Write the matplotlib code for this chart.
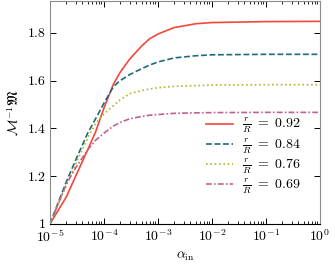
import numpy as np
import matplotlib
matplotlib.use("Agg")
import matplotlib.pyplot as plt
from matplotlib.ticker import FuncFormatter, LogLocator, NullFormatter

plt.rcParams['font.family'] = 'serif'
plt.rcParams['font.serif'] = ['cmr10']
plt.rcParams['mathtext.fontset'] = 'cm'
plt.rcParams['axes.formatter.use_mathtext'] = True
plt.rcParams['font.size'] = 10

# sampled alpha_in values
alpha = [1e-5, 2e-5, 3e-5, 5e-5, 7e-5, 1e-4, 1.5e-4, 2e-4, 3e-4, 5e-4,
         7e-4, 1e-3, 2e-3, 5e-3, 1e-2, 1e-1, 1.0]

# M^-1 frak(M) for each r/R
m_092 = [1.0, 1.112, 1.20, 1.31, 1.385, 1.485, 1.585, 1.635, 1.69, 1.745,
         1.775, 1.795, 1.822, 1.838, 1.843, 1.847, 1.848]
m_084 = [1.0, 1.175, 1.267, 1.38, 1.44, 1.505, 1.575, 1.60, 1.625, 1.65,
         1.665, 1.678, 1.695, 1.704, 1.708, 1.71, 1.71]
m_076 = [1.0, 1.16, 1.25, 1.36, 1.42, 1.46, 1.495, 1.52, 1.545, 1.558,
         1.565, 1.57, 1.576, 1.579, 1.581, 1.583, 1.583]
m_069 = [1.0, 1.165, 1.235, 1.31, 1.35, 1.38, 1.41, 1.425, 1.44, 1.45,
         1.455, 1.458, 1.463, 1.465, 1.466, 1.467, 1.467]

labels = [r'$\frac{r}{R}\ =\ 0.92$', r'$\frac{r}{R}\ =\ 0.84$',
          r'$\frac{r}{R}\ =\ 0.76$', r'$\frac{r}{R}\ =\ 0.69$']
colors = ['#f4473a', '#1d6b78', '#b5b52a', '#c0628f']
styles = ['-', (0, (3.5, 1.6)), (0, (1, 1.6)), (0, (3.5, 1.3, 1, 1.3))]

fig = plt.figure(figsize=(3.35, 2.65), dpi=100)
ax = fig.add_axes([0.149, 0.155, 0.806, 0.841])

for y, lab, c, ls in zip([m_092, m_084, m_076, m_069], labels, colors, styles):
    ax.plot(alpha, y, color=c, linestyle=ls, linewidth=1.2, label=lab)

ax.set_xscale('log')
ax.set_xlim(1e-5, 1)
ax.set_ylim(1.0, 1.933)
ax.set_yticks([1.0, 1.2, 1.4, 1.6, 1.8])
ax.yaxis.set_major_formatter(FuncFormatter(lambda v, p: '1' if abs(v - 1) < 1e-9 else f'{v:.1f}'))
ax.xaxis.set_major_locator(LogLocator(base=10, numticks=10))
ax.xaxis.set_minor_locator(LogLocator(base=10, subs=np.arange(2, 10), numticks=20))
ax.xaxis.set_minor_formatter(NullFormatter())

ax.tick_params(which='both', direction='in', top=True, right=True)
ax.tick_params(which='major', length=4, width=0.7, pad=3)
ax.tick_params(which='minor', length=2, width=0.6)
for side in ['left', 'top', 'right']:
    ax.spines[side].set_color('#8c8c8c')
ax.spines['bottom'].set_color('black')

ax.set_xlabel(r'$\alpha_{\mathrm{in}}$', labelpad=4)
ax.set_ylabel(r'$\mathcal{M}^{-1}\mathfrak{M}$', labelpad=4)

ax.legend(loc='lower right', bbox_to_anchor=(0.95, 0.10), frameon=False,
          fontsize=10, handlelength=2.0, labelspacing=0.05,
          borderaxespad=0.0, handletextpad=0.6)

fig.savefig('out.png', dpi=100)
